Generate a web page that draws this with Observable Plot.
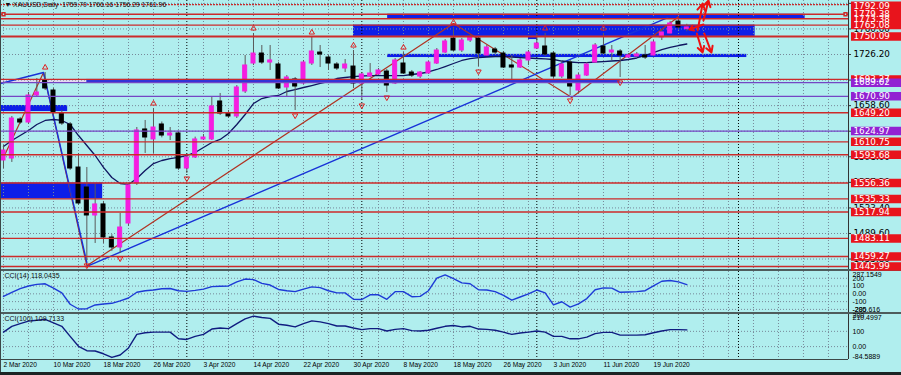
<!DOCTYPE html>
<html><head><meta charset="utf-8">
<script src="https://cdn.jsdelivr.net/npm/d3@7"></script>
<script src="https://cdn.jsdelivr.net/npm/@observablehq/plot@0.6"></script>
<style>
html,body{margin:0;padding:0;background:#1d2424;}
#wrap{width:901px;height:375px;position:relative;background:#b0eeee;overflow:hidden;}
#wrap svg{display:block;}
.sep{width:901px;height:2px;background:#4e5c5c;}
.bottom{width:901px;height:3px;background:#1d2424;}
.lb{position:absolute;left:0;top:0;width:1px;height:372px;background:#3c4848;}
</style></head><body><div id="wrap"></div>
<script>
// ---------------- data ----------------
const xLabels = ["2 Mar 2020","10 Mar 2020","18 Mar 2020","26 Mar 2020","3 Apr 2020","14 Apr 2020","22 Apr 2020","30 Apr 2020","8 May 2020","18 May 2020","26 May 2020","3 Jun 2020","11 Jun 2020","19 Jun 2020"];
const xLabelBars = [0,6,12,18,24,30,36,42,48,54,60,66,72,78];

const open  = [1586.1,1588.7,1640.3,1636.3,1672.0,1691.8,1678.6,1648.2,1633.7,1576.8,1550.4,1513.4,1528.0,1484.3,1471.1,1502.8,1555.7,1627.1,1613.9,1633.7,1619.1,1621.8,1575.5,1590.1,1613.9,1613.9,1664.1,1648.2,1644.3,1677.3,1714.3,1727.5,1715.6,1713.0,1682.6,1693.2,1687.9,1714.3,1728.8,1722.2,1713.0,1707.7,1710.3,1687.9,1697.1,1699.8,1703.7,1687.9,1714.3,1702.4,1697.1,1701.1,1714.3,1728.8,1747.3,1731.5,1744.7,1747.3,1724.9,1732.8,1727.5,1711.7,1709.0,1718.3,1734.1,1736.8,1727.5,1697.1,1715.6,1678.6,1698.4,1715.6,1736.8,1728.8,1730.2,1722.2,1723.6,1724.9,1724.9,1748.7,1754.0,1769.8,1759.70];
const high  = [1605.9,1644.3,1642.9,1676.0,1694.5,1702.4,1681.3,1652.2,1636.3,1595.4,1576.8,1554.4,1532.0,1488.0,1516.1,1556.0,1629.7,1639.0,1654.8,1637.0,1629.7,1625.0,1593.0,1617.0,1620.5,1669.4,1674.7,1652.2,1685.2,1724.9,1754.0,1738.1,1738.1,1716.0,1698.4,1695.8,1718.3,1748.7,1738.1,1724.9,1715.6,1719.6,1731.5,1702.4,1714.3,1707.7,1706.4,1720.9,1728.8,1705.1,1703.7,1717.0,1734.1,1746.0,1762.0,1747.3,1751.4,1750.0,1738.1,1735.5,1730.2,1724.9,1720.9,1731.5,1754.0,1754.0,1730.2,1715.6,1718.3,1701.1,1715.6,1740.7,1754.0,1738.1,1732.8,1727.5,1728.8,1738.1,1744.7,1758.0,1770.0,1773.8,1766.16];
const low   = [1575.5,1583.5,1633.7,1633.7,1669.4,1678.6,1645.6,1632.4,1573.0,1526.7,1453.9,1476.4,1476.4,1466.0,1463.2,1499.0,1553.1,1595.4,1595.4,1616.0,1612.5,1573.0,1568.9,1588.7,1612.5,1612.5,1645.6,1641.6,1641.6,1674.7,1711.7,1713.0,1705.1,1679.9,1669.4,1652.2,1686.5,1711.7,1709.0,1705.1,1705.1,1702.4,1681.3,1665.4,1695.8,1698.4,1676.0,1686.5,1699.8,1695.8,1694.5,1699.8,1713.0,1727.5,1730.2,1728.8,1742.1,1710.3,1723.6,1726.2,1707.7,1689.2,1707.7,1711.7,1732.8,1723.6,1694.5,1694.5,1672.0,1676.0,1697.1,1714.3,1726.2,1718.3,1695.8,1720.9,1722.2,1719.6,1723.6,1744.7,1752.7,1759.3,1756.29];
const close = [1599.3,1641.6,1636.3,1672.0,1676.0,1681.3,1649.5,1635.0,1575.5,1529.3,1513.4,1528.0,1484.3,1471.1,1497.5,1553.1,1625.8,1616.5,1629.7,1619.1,1621.8,1575.5,1590.1,1613.9,1616.5,1657.5,1648.2,1644.3,1682.6,1711.7,1727.5,1715.6,1718.3,1681.3,1695.8,1683.9,1715.6,1730.2,1726.2,1714.3,1707.7,1713.0,1687.9,1699.8,1701.1,1705.1,1685.2,1718.3,1701.1,1698.4,1702.4,1715.6,1731.5,1743.4,1731.5,1744.7,1748.7,1727.5,1735.5,1728.8,1709.0,1709.0,1718.3,1728.8,1740.7,1726.2,1697.1,1713.0,1683.9,1698.4,1713.0,1738.1,1727.5,1731.5,1724.9,1724.9,1726.2,1722.2,1742.1,1755.3,1767.2,1761.9,1761.96];
const maValues = [1604.6,1612.5,1619.1,1625.8,1633.7,1639.0,1640.3,1639.0,1633.7,1619.1,1605.9,1592.7,1576.9,1563.6,1555.7,1554.4,1562.3,1572.9,1582.1,1586.1,1588.7,1590.1,1592.7,1596.7,1603.3,1609.9,1613.9,1621.8,1633.7,1646.9,1661.4,1668.0,1670.7,1672.0,1677.3,1679.9,1682.6,1685.2,1687.9,1690.5,1694.5,1695.8,1697.1,1697.8,1698.4,1698.4,1698.4,1698.4,1698.4,1699.8,1701.1,1703.1,1706.4,1710.3,1714.3,1718.3,1720.9,1722.2,1722.9,1723.6,1723.6,1722.9,1722.2,1721.6,1720.9,1720.3,1719.6,1717.6,1716.3,1715.6,1715.6,1716.3,1716.9,1717.6,1718.3,1719.6,1721.6,1724.9,1728.8,1732.8,1735.5,1738.1,1740.1];
const cci14 = [-33,20,68,101,122,129,73,12,-134,-195,-191,-143,-130,-122,-90,-54,20,40,49,65,68,40,32,44,61,93,98,101,154,190,183,134,113,56,40,28,61,89,80,40,12,12,-70,-73,-12,-12,-70,28,28,-37,-33,40,202,244,195,141,129,52,49,28,-21,-82,-41,0,49,12,-143,-102,-171,-130,-61,52,77,73,20,24,28,40,101,162,171,154,118.0435];
const cci100 = [95,133,151,167,173,178,155,133,67,2,-27,-29,-47,-71,-55,-9,80,91,95,95,95,51,47,67,80,115,122,118,151,182,200,191,185,147,140,129,151,169,162,151,135,135,122,111,118,118,102,113,118,105,102,107,120,133,138,129,133,115,113,107,95,80,89,95,102,95,67,67,51,51,62,85,93,93,75,75,75,78,91,102,111,111,109.7133];

// price levels (horizontal lines with labels on the price scale)
const levelPrices = [1773.38,1779.38,1765.08,1750.09,1693.27,1689.02,1670.90,1649.20,1624.97,1610.75,1593.68,1556.36,1535.33,1517.94,1483.11,1459.27,1445.99];
const levelKinds  = ["red","red","red","red","red","purple","purple","red","purple","red","red","red","red","red","red","red","red"];
const topLevel = 1792.09;
const priceTicks = [1793.8,1760.0,1726.2,1692.4,1658.6,1624.8,1591.0,1557.2,1523.4,1489.6,1455.8];

// zones: [bar from, bar to, price low, price high]
const zonesBack = [[46.1,96.2,1773.38,1779.38],[42.0,90.2,1750.09,1765.08],[-0.4,7.7,1650.8,1658.8],[-0.4,11.9,1535.33,1556.36],[46.1,89.2,1722.2,1726.4],[63.0,64.1,1746.0,1750.0]];
const zoneFront = [[10.0,74.0,1689.02,1693.27]];
const zonePale  = [[-0.4,10.0,1689.02,1693.27]];

// zigzag and trend lines (bar, price)
const zigzag = [[0,1590.0],[4.8,1702.4],[10.0,1447.0],[54.0,1767.2],[68.2,1669.4],[81.0,1776.0]];
const blueLong = [[10.0,1446.0],[79.7,1775.0]];
const blueLeft = [[-0.36,1687.9],[4.8,1702.4],[10.0,1451.3]];
const fractalUp = [5,18,30,37,42,48,54,65,72];
const fractalDown = [10,14,22,35,43,46,57,68,74];
const separators = [22,43,64,88.2];
// hand-drawn arrows [x1,y1,x2,y2]
const arrows = [[84.0,1765.9,82.3,1759.2],[83.3,1757.9,83.9,1793.6],[84.0,1771.1,84.6,1797.6],[83.2,1754.0,83.9,1728.8],[84.1,1754.0,84.96,1728.8]];

const header = "\u25BC XAUUSD,Daily  1759.70 1766.16 1756.29 1761.96";
const cci14Title = "CCI(14) 118.0435";
const cci100Title = "CCI(100) 109.7133";
const cci14Labels = [[200,"200"],[100,"100"],[0,"0.00"],[-100,"-100"],[-200,"-200"]];
const cci14Max = 287.1549, cci14Min = -285.616;
const cci100Labels = [[200,"200"],[100,"100"],[0,"0.00"]];
const cci100Max = 210.4997, cci100Min = -84.5889;

// ---------------- layout ----------------
const PX0 = 3, STEP = 8.333, RIGHT = 848, W = 901;
const idxAt = px => (px - PX0) / STEP;
const xDomain = [idxAt(0), idxAt(RIGHT)];
const BULL = "#f51ee0", BEAR = "#000000";
const RED = "#cc2a2a", PURPLE = "#7446c4", REDBG = "#e8141c", PURBG = "#9222d2";
const GRID = "#778899";
const FONT = "'DejaVu Sans', sans-serif";
const SMALL = "'Liberation Sans', Arial, sans-serif";

const bars = open.map((o,i)=>({i,o,h:high[i],l:low[i],c:close[i]}));
const levels = levelPrices.map((p,k)=>({p,kind:levelKinds[k]}));
const zb = zonesBack.map(([a,b,c,d])=>({a,b,c,d}));
const zf = zoneFront.map(([a,b,c,d])=>({a,b,c,d}));
const zp = zonePale.map(([a,b,c,d])=>({a,b,c,d}));
const vgrid = d3.range(0, 102, 3);
const style = {background:"transparent", fontFamily: FONT, overflow:"visible"};
const wrap = document.getElementById("wrap");
const lineColor = d => d.kind==="red" ? RED : PURPLE;
const boxColor = d => d.kind==="red" ? REDBG : PURBG;

const main = Plot.plot({
  width: W, height: 269, marginLeft: 0, marginRight: W-RIGHT, marginTop: 0, marginBottom: 0,
  x: {type:"linear", domain: xDomain, axis: null},
  y: {domain: [1442.0, 1797.6], axis: null},
  style,
  marks: [
    Plot.rect(zp, {x1:"a", x2:"b", y1:"c", y2:"d", fill:"#e4d8f0"}),
    Plot.rect(zb, {x1:"a", x2:"b", y1:"c", y2:"d", fill:"#0d1fe8"}),
    Plot.ruleX(vgrid, {stroke: GRID, strokeDasharray:"1,2"}),
    Plot.ruleY(priceTicks, {stroke: GRID, strokeDasharray:"1,2"}),
    Plot.ruleX(separators, {stroke:"#000", strokeDasharray:"1,2"}),
    Plot.line(zigzag, {x: d=>d[0], y: d=>d[1], stroke:"#b03222", strokeWidth:1.2}),
    Plot.line(blueLong, {x: d=>d[0], y: d=>d[1], stroke:"#1832d8", strokeWidth:1.4}),
    Plot.line(blueLeft, {x: d=>d[0], y: d=>d[1], stroke:"#1832d8", strokeWidth:1.4}),
    Plot.line(maValues, {x:(d,i)=>i, y: d=>d, stroke:"#0f1560", strokeWidth:1.3}),
    Plot.ruleX(bars, {x:"i", y1:"l", y2:"h", stroke:"#5a5a5a", strokeWidth:1}),
    Plot.rect(bars, {x1: d=>d.i-0.24, x2: d=>d.i+0.24, y1:"o", y2:"c",
      fill: d=>d.c>=d.o?BULL:BEAR, stroke: d=>d.c>=d.o?BULL:BEAR, strokeWidth:1}),
    Plot.rect(zf, {x1:"a", x2:"b", y1:"c", y2:"d", fill:"#3434d6"}),
    Plot.ruleY(levels, {y:"p", stroke: lineColor, strokeWidth: d=>d.p===1750.09?2:1.4}),
    Plot.ruleY([topLevel], {stroke: RED, strokeWidth:1.2, strokeDasharray:"2,1"}),
    Plot.dot(fractalUp, {x:d=>d, y:d=>high[d], dy:-5, symbol:"triangle", r:2, stroke:"#e02020", fill:"none", strokeWidth:1}),
    Plot.dot(fractalDown, {x:d=>d, y:d=>low[d], dy:5, symbol:"triangle", rotate:180, r:2, stroke:"#e02020", fill:"none", strokeWidth:1}),
    Plot.arrow(arrows, {x1:d=>d[0], y1:d=>d[1], x2:d=>d[2], y2:d=>d[3], stroke:"#ee1111", strokeWidth:2, headLength:6}),
    Plot.dot([1779.38], {x: idxAt(845), y: d=>d, symbol:"square", r:1.6, stroke:RED, fill:"#b0eeee"}),
    Plot.dot([1779.38], {x: idxAt(3), y: d=>d, symbol:"square", r:1.6, stroke:RED, fill:"#b0eeee"}),
    Plot.ruleX([xDomain[1]], {stroke:"#333", strokeWidth:1}),
    Plot.ruleY(priceTicks, {x1: xDomain[1], x2: idxAt(RIGHT+3), stroke:"#333"}),
    Plot.text(priceTicks.slice(1), {x: idxAt(853), y: d=>d, text: d=>d.toFixed(2), textAnchor:"start", fill:"#000", fontSize:8.8}),
    Plot.ruleY(levels, {y:"p", x1: idxAt(851), x2: idxAt(901), stroke: boxColor, strokeWidth:8.5}),
    Plot.text(levels, {x: idxAt(853), y:"p", text: d=>d.p.toFixed(2), textAnchor:"start", fill:"#fff", fontSize:8.8}),
    Plot.ruleY([topLevel], {x1: idxAt(851), x2: idxAt(901), dy:1.2, stroke: REDBG, strokeWidth:8.5}),
    Plot.text([topLevel], {x: idxAt(853), y: d=>d, dy:1.2, text: d=>d.toFixed(2), textAnchor:"start", fill:"#fff", fontSize:8.8}),
    Plot.text([header], {frameAnchor:"top-left", dx:4, dy:2, lineAnchor:"top", fill:"#111", fontSize:6.8, fontFamily: SMALL})
  ]
});

function cciPanel(values, title, domain, h, mb, labels, maxV, minV, color, gridVals, withX) {
  const marks = [
    Plot.ruleX(vgrid, {stroke: GRID, strokeDasharray:"1,2"}),
    Plot.ruleY(gridVals, {stroke: GRID, strokeDasharray:"1,2"}),
    Plot.ruleX(separators, {stroke:"#000", strokeDasharray:"1,2"}),
    Plot.line(values, {x:(d,i)=>i, y:d=>d, stroke: color, strokeWidth:1.4}),
    Plot.ruleX([xDomain[1]], {stroke:"#333"}),
    Plot.text(labels, {x: idxAt(852), y: d=>d[0], text: d=>d[1], textAnchor:"start", fill:"#000", fontSize:7, fontFamily:SMALL}),
    Plot.text([maxV], {x: idxAt(852), y: d=>d, dy:3, text: d=>String(d), textAnchor:"start", fill:"#000", fontSize:7, fontFamily:SMALL}),
    Plot.text([minV], {x: idxAt(852), y: domain[0], dy:-3, text: d=>String(d), textAnchor:"start", fill:"#000", fontSize:7, fontFamily:SMALL}),
    Plot.text([title], {frameAnchor:"top-left", dx:4, dy:2, lineAnchor:"top", fill:"#111", fontSize:7, fontFamily:SMALL})
  ];
  if (withX) {
    marks.push(Plot.ruleY([domain[0]], {stroke:"#3c4848"}));
    marks.push(Plot.text(xLabelBars, {x:d=>d, frameAnchor:"bottom", dy:7, text:(d,i)=>xLabels[i], textAnchor:"start", fill:"#000", fontSize:6.6, fontFamily:SMALL}));
  }
  return Plot.plot({
    width: W, height: h + mb, marginLeft:0, marginRight: W-RIGHT, marginTop:0, marginBottom: mb,
    x: {type:"linear", domain: xDomain, axis:null},
    y: {domain, axis:null},
    style, marks
  });
}

const p14 = cciPanel(cci14, cci14Title, [-240, cci14Max], 41, 0, cci14Labels, cci14Max, cci14Min, "#1d3ad6", [200,100,0,-100,-200], false);
const p100 = cciPanel(cci100, cci100Title, [cci100Min, cci100Max], 45, 13, cci100Labels, cci100Max, cci100Min, "#101c80", [100,0], true);

const sep = () => { const d = document.createElement("div"); d.className = "sep"; return d; };
wrap.append(main, sep(), p14, sep(), p100);
const b = document.createElement("div"); b.className = "bottom"; wrap.append(b);
const lb = document.createElement("div"); lb.className = "lb"; wrap.append(lb);
</script></body></html>
